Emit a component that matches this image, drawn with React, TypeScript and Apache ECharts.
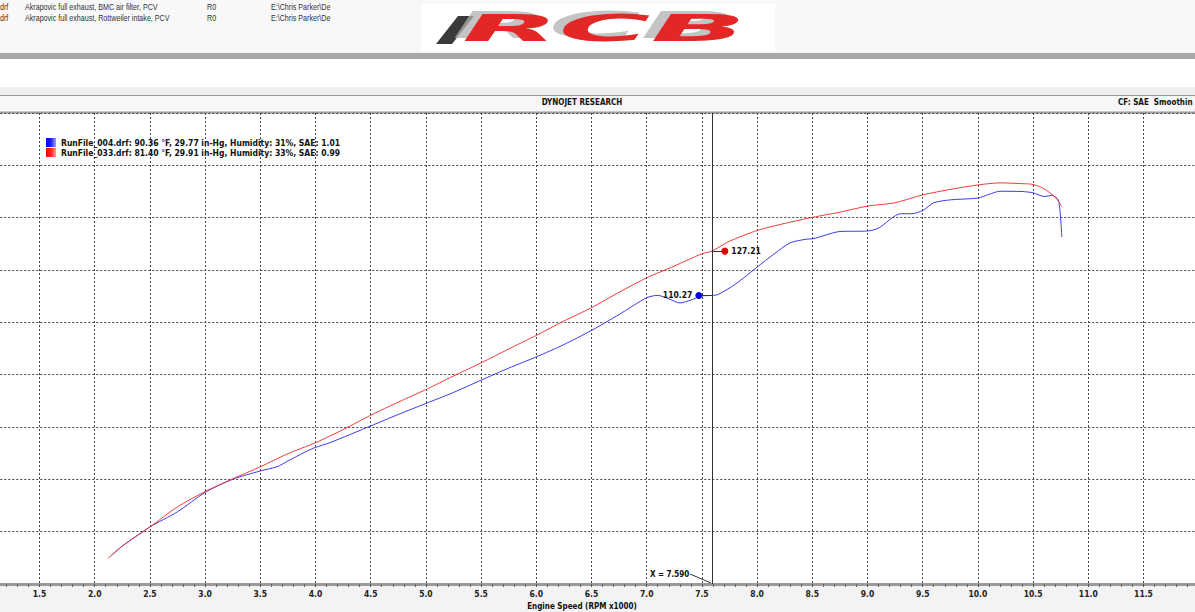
import React, { useEffect, useRef } from "react";
import * as echarts from "echarts";

// ---- data ----
const blueName = "RunFile_004.drf: 90.36 °F, 29.77 in-Hg, Humidity: 31%, SAE: 1.01";
const redName = "RunFile_033.drf: 81.40 °F, 29.91 in-Hg, Humidity: 33%, SAE: 0.99";

const xTickMin = 1.0;
const xTickMax = 12.0;
const xTickStep = 0.5;
const yMin = 0;
const yMax = 180;
const yStep = 20;

const cursorRpm = 7.59;
const redCursorValue = 127.21;
const blueCursorValue = 110.27;

const redRpm = [2.12, 2.25, 2.5, 2.75, 3.0, 3.25, 3.5, 3.75, 4.0, 4.25, 4.5, 4.75, 5.0, 5.25, 5.5, 5.75, 6.0, 6.25, 6.5, 6.75, 7.0, 7.25, 7.5, 7.59, 7.75, 8.0, 8.25, 8.5, 8.75, 9.0, 9.25, 9.5, 9.75, 10.0, 10.2, 10.4, 10.5, 10.6, 10.7, 10.76];
const redPower = [9.8, 14.5, 21.8, 29.5, 35.3, 40.2, 44.8, 49.8, 54.0, 59.0, 64.5, 69.5, 74.3, 79.5, 84.5, 89.8, 95.0, 100.5, 105.6, 111.5, 117.0, 121.5, 126.2, 127.21, 131.0, 135.1, 137.8, 140.1, 142.1, 144.4, 145.7, 148.7, 150.8, 152.5, 153.3, 153.0, 152.7, 151.0, 147.8, 144.3];

const blueRpm = [2.15, 2.25, 2.5, 2.75, 3.0, 3.25, 3.5, 3.65, 3.75, 3.9, 4.0, 4.13, 4.5, 4.75, 5.0, 5.25, 5.5, 5.75, 6.0, 6.25, 6.5, 6.75, 7.0, 7.1, 7.2, 7.3, 7.4, 7.5, 7.59, 7.65, 7.8, 8.0, 8.15, 8.3, 8.45, 8.5, 8.75, 9.0, 9.1, 9.3, 9.4, 9.5, 9.6, 9.75, 10.0, 10.1, 10.2, 10.4, 10.5, 10.6, 10.67, 10.73, 10.76];
const bluePower = [10.8, 14.5, 21.8, 27.6, 35.0, 40.0, 43.2, 44.8, 47.0, 50.3, 52.2, 54.0, 60.4, 64.8, 69.0, 73.2, 77.9, 82.5, 86.8, 91.5, 96.9, 103.0, 109.4, 110.3, 109.0, 107.4, 108.5, 110.1, 110.27, 110.7, 114.5, 121.1, 126.0, 130.4, 131.8, 131.9, 134.7, 134.9, 136.0, 141.5, 141.5, 142.7, 145.7, 146.8, 147.5, 148.9, 150.1, 150.0, 149.5, 148.1, 148.5, 146.6, 132.6];

const headerRows = [
  ["drf", "Akrapovic full exhaust, BMC air filter, PCV", "R0", "E:\\Chris Parker\\De"],
  ["drf", "Akrapovic full exhaust, Rottweiler intake, PCV", "R0", "E:\\Chris Parker\\De"],
];

// ---- styles ----
const FONT = '"DejaVu Sans Condensed", "DejaVu Sans", sans-serif';
const SMALL = '"Liberation Sans", Arial, sans-serif';
const RED = "#f03a3a";
const BLUE = "#3a3ae6";
const GRID_DASH = [2, 2];

export default function App() {
  const ref = useRef<HTMLDivElement>(null);

  useEffect(() => {
    if (!ref.current) return;
    const chart = echarts.init(ref.current, null, { renderer: "svg" });

    const redData = redRpm.map((x, i) => [x, redPower[i]]);
    const blueData = blueRpm.map((x, i) => [x, bluePower[i]]);
    const dotOffsetPx = 13;
    const dotOffsetRpm = dotOffsetPx / 110.4;

    const colX = [0, 25, 207, 271];
    const headerTexts: any[] = [];
    headerRows.forEach((row, r) => {
      row.forEach((t, c) => {
        headerTexts.push({
          type: "text",
          x: colX[c],
          y: 7 + r * 11,
          scaleX: 0.84,
          style: { text: t, fontFamily: SMALL, fontSize: 8.5, fill: "#333", textVerticalAlign: "middle" },
        });
      });
    });

    const option: any = {
      animation: false,
      backgroundColor: "#f3f3f3",
      grid: {
        left: -15.7,
        right: -3.7,
        top: 113,
        bottom: 28,
        containLabel: false,
        outerBoundsMode: "none",
        show: true,
        backgroundColor: "#ffffff",
        borderWidth: 0,
      },
      legend: {
        orient: "vertical",
        left: 46,
        top: 138,
        padding: 0,
        icon: "rect",
        itemWidth: 10,
        itemHeight: 9,
        itemGap: 1,
        selectedMode: false,
        textStyle: { fontFamily: FONT, fontWeight: "bold", fontSize: 8.5, color: "#111" },
        data: [
          {
            name: blueName,
            itemStyle: {
              color: new echarts.graphic.LinearGradient(0, 0, 1, 0, [
                { offset: 0, color: "#0000ff" },
                { offset: 0.5, color: "#2020ff" },
                { offset: 1, color: "#a0a0ff" },
              ]),
            },
          },
          {
            name: redName,
            itemStyle: {
              color: new echarts.graphic.LinearGradient(0, 0, 1, 0, [
                { offset: 0, color: "#ff0000" },
                { offset: 0.5, color: "#ff2020" },
                { offset: 1, color: "#ffa0a0" },
              ]),
            },
          },
        ],
      },
      xAxis: {
        type: "value",
        min: xTickMin,
        max: xTickMax,
        interval: xTickStep,
        axisLine: { show: true, lineStyle: { color: "#9a9a9a", width: 3 } },
        axisTick: { show: true, length: 3, lineStyle: { color: "#555" } },
        minorTick: { show: true, splitNumber: 5, length: 3, lineStyle: { color: "#666" } },
        axisLabel: {
          margin: 5,
          showMinLabel: false,
          showMaxLabel: false,
          fontFamily: FONT,
          fontWeight: "bold",
          fontSize: 8.5,
          color: "#222",
          formatter: (v: number) => v.toFixed(1),
        },
        splitLine: { show: true, lineStyle: { color: "#444", type: GRID_DASH, width: 1 } },
      },
      yAxis: {
        type: "value",
        min: yMin,
        max: yMax,
        interval: yStep,
        axisLine: { show: false },
        axisTick: { show: false },
        axisLabel: { show: false },
        splitLine: { show: true, lineStyle: { color: "#444", type: GRID_DASH, width: 1 } },
      },
      series: [
        {
          name: blueName,
          type: "line",
          data: blueData,
          showSymbol: false,
          smooth: 0.25,
          lineStyle: { color: BLUE, width: 1 },
          itemStyle: { color: BLUE },
          z: 3,
          markPoint: {
            silent: true,
            data: [
              {
                coord: [cursorRpm, blueCursorValue],
                symbol: "circle",
                symbolSize: 7,
                symbolOffset: [-dotOffsetPx, 0],
                itemStyle: { color: "#0000e0" },
                label: {
                  show: true,
                  position: "left",
                  distance: 3,
                  formatter: blueCursorValue.toFixed(2),
                  fontFamily: FONT,
                  fontWeight: "bold",
                  fontSize: 8.5,
                  color: "#111",
                },
              },
            ],
          },
          markLine: {
            silent: true,
            symbol: ["none", "none"],
            label: { show: false },
            lineStyle: { color: "#333", width: 1, type: "solid" },
            data: [
              [
                { coord: [cursorRpm - dotOffsetRpm, blueCursorValue] },
                { coord: [cursorRpm, blueCursorValue] },
              ],
            ],
          },
        },
        {
          name: redName,
          type: "line",
          data: redData,
          showSymbol: false,
          smooth: 0.25,
          lineStyle: { color: RED, width: 1 },
          itemStyle: { color: RED },
          z: 3,
          markPoint: {
            silent: true,
            data: [
              {
                coord: [cursorRpm, redCursorValue],
                symbol: "circle",
                symbolSize: 7,
                symbolOffset: [dotOffsetPx, 0],
                itemStyle: { color: "#e00000" },
                label: {
                  show: true,
                  position: "right",
                  distance: 3,
                  formatter: redCursorValue.toFixed(2),
                  fontFamily: FONT,
                  fontWeight: "bold",
                  fontSize: 8.5,
                  color: "#111",
                },
              },
            ],
          },
          markLine: {
            silent: true,
            symbol: ["none", "none"],
            label: { show: false },
            lineStyle: { color: "#333", width: 1, type: "solid" },
            data: [
              { xAxis: cursorRpm },
              [
                { coord: [cursorRpm, redCursorValue] },
                { coord: [cursorRpm + dotOffsetRpm, redCursorValue] },
              ],
            ],
          },
        },
      ],
      graphic: [
        // top panel
        { type: "rect", shape: { x: 0, y: 0, width: 1195, height: 53 }, style: { fill: "#f8f8f8" }, z: -1 },
        { type: "rect", shape: { x: 0, y: 53, width: 1195, height: 6 }, style: { fill: "#a8a8a8" }, z: -1 },
        { type: "rect", shape: { x: 0, y: 59, width: 1195, height: 28 }, style: { fill: "#ffffff" }, z: -1 },
        { type: "rect", shape: { x: 0, y: 87, width: 1195, height: 9 }, style: { fill: "#efefef" }, z: -1 },
        { type: "rect", shape: { x: 0, y: 96, width: 1195, height: 16 }, style: { fill: "#f7f7f7" }, z: -1 },
        { type: "line", shape: { x1: 0, y1: 95.5, x2: 1195, y2: 95.5 }, style: { stroke: "#9a9a9a", lineWidth: 1 } },
        { type: "line", shape: { x1: 0, y1: 112.5, x2: 1195, y2: 112.5 }, style: { stroke: "#9a9a9a", lineWidth: 2 } },
        ...headerTexts,
        // logo
        { type: "rect", shape: { x: 422, y: 4, width: 353, height: 47 }, style: { fill: "#ffffff" } },
        {
          type: "polygon",
          shape: { points: [[458, 16], [474, 16], [452, 44], [436, 44]] },
          style: { fill: "#3a3a3a" },
        },
        {
          type: "text",
          x: 452,
          y: 25,
          scaleX: 3.3,
          style: {
            text: "RCB",
            fontFamily: '"DejaVu Sans", sans-serif',
            fontWeight: 900,
            fontStyle: "italic",
            fontSize: 38,
            fill: "#b0b0b0",
            textVerticalAlign: "middle",
            opacity: 0.75,
          },
        },
        {
          type: "text",
          x: 462,
          y: 28,
          scaleX: 3.3,
          style: {
            text: "RCB",
            fontFamily: '"DejaVu Sans", sans-serif',
            fontWeight: 900,
            fontStyle: "italic",
            fontSize: 38,
            fill: "#e32626",
            textVerticalAlign: "middle",
          },
        },
        // header bar texts
        {
          type: "text",
          x: 582,
          y: 102,
          style: { text: "DYNOJET RESEARCH", fontFamily: FONT, fontWeight: "bold", fontSize: 8, fill: "#111", textAlign: "center", textVerticalAlign: "middle" },
        },
        {
          type: "text",
          x: 1118,
          y: 102,
          style: { text: "CF: SAE  Smoothin", fontFamily: FONT, fontWeight: "bold", fontSize: 8, fill: "#111", textVerticalAlign: "middle" },
        },
        // cursor readout
        {
          type: "text",
          x: 650,
          y: 574,
          style: { text: "X = " + cursorRpm.toFixed(3), fontFamily: FONT, fontWeight: "bold", fontSize: 8, fill: "#111", textVerticalAlign: "middle" },
        },
        { type: "line", shape: { x1: 690, y1: 574, x2: 711, y2: 583 }, style: { stroke: "#333", lineWidth: 1 } },
        // axis title
        {
          type: "text",
          x: 582,
          y: 606,
          style: { text: "Engine Speed (RPM x1000)", fontFamily: FONT, fontWeight: "bold", fontSize: 8, fill: "#111", textAlign: "center", textVerticalAlign: "middle" },
        },
      ],
    };

    chart.setOption(option);
    return () => chart.dispose();
  }, []);

  return <div ref={ref} style={{ position: "fixed", left: 0, top: 0, width: 1195, height: 612 }} />;
}
